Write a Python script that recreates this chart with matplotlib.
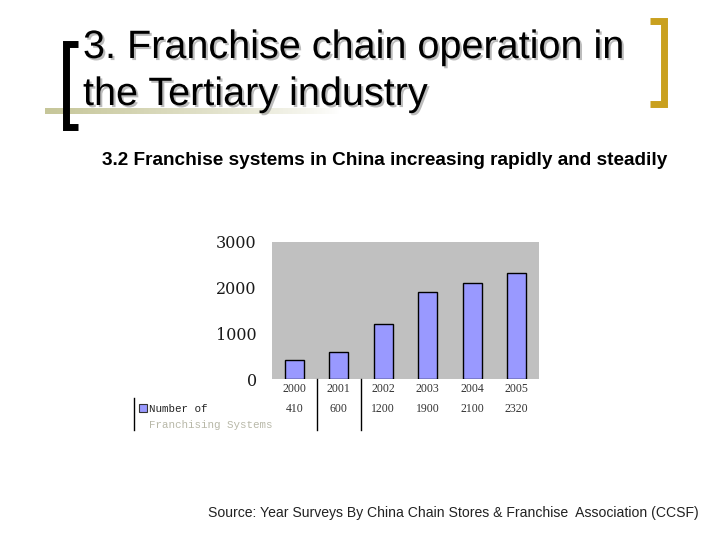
import numpy as np
import matplotlib.pyplot as plt
import matplotlib.patheffects as pe
from matplotlib.transforms import blended_transform_factory

years = ['2000', '2001', '2002', '2003', '2004', '2005']
systems = [410, 600, 1200, 1900, 2100, 2320]
yticks = [0, 1000, 2000, 3000]
series_name = ['Number of', 'Franchising Systems']

title_lines = ['3. Franchise chain operation in', 'the Tertiary industry']
subtitle = '3.2 Franchise systems in China increasing rapidly and steadily'
source = 'Source: Year Surveys By China Chain Stores & Franchise  Association (CCSF)'

W, H = 720, 540
fig = plt.figure(figsize=(7.2, 5.4), dpi=100)

# overlay axes in pixel coords for slide decoration
deco = fig.add_axes([0, 0, 1, 1])
deco.set_xlim(0, W)
deco.set_ylim(H, 0)
deco.axis('off')

# olive line fading out under the title
grad = np.zeros((1, 256, 4))
grad[..., 0] = 0.78
grad[..., 1] = 0.78
grad[..., 2] = 0.60
grad[..., 3] = np.linspace(1, 0, 256) ** 0.8
deco.imshow(grad, extent=[45, 340, 114, 108], aspect='auto', zorder=1)

# brackets
deco.plot([78, 66, 66, 78], [44, 44, 127, 127], color='black', lw=5,
          solid_joinstyle='miter', solid_capstyle='butt', zorder=3)
deco.plot([650, 664, 664, 650], [21, 21, 104, 104], color='#C9A01E', lw=5,
          solid_joinstyle='miter', solid_capstyle='butt', zorder=3)

shadow = [pe.withSimplePatchShadow(offset=(1.5, -1.5), shadow_rgbFace='#909090', alpha=0.6)]
for line, yb in zip(title_lines, [58, 105]):
    deco.text(83, yb, line, fontsize=28.5, family='Liberation Sans', color='black',
              va='baseline', ha='left', zorder=4, path_effects=shadow)
deco.text(102, 165, subtitle, fontsize=13.7, family='Liberation Sans', weight='bold',
          va='baseline', ha='left')
deco.text(208, 517, source, fontsize=10.1, family='Liberation Sans', color='#222222',
          va='baseline', ha='left')

# chart
ax = fig.add_axes([272 / W, 1 - 379 / H, 267 / W, 137 / H])
x = np.arange(len(years))
ax.bar(x, systems, width=0.43, color='#9999FF', edgecolor='black', linewidth=1, zorder=2)
ax.set_facecolor('#C0C0C0')
ax.set_xlim(-0.5, len(years) - 0.5)
ax.set_ylim(0, 3000)
ax.set_yticks(yticks)
ax.set_yticklabels([str(v) for v in yticks], family='DejaVu Serif', fontsize=11.5,
                   color='#1a1a1a')
ax.tick_params(axis='y', length=0, pad=11)
ax.set_xticks([])
for s in ax.spines.values():
    s.set_visible(False)

# data table under the chart
tr = blended_transform_factory(ax.transData, ax.transAxes)
ph = 137.0
for i, (yr, v) in enumerate(zip(years, systems)):
    ax.text(i, -10 / ph, yr, transform=tr, ha='center', va='center',
            family='Liberation Serif', fontsize=8.5, color='#333333', clip_on=False)
    ax.text(i, -30 / ph, str(v), transform=tr, ha='center', va='center',
            family='Liberation Serif', fontsize=8.5, color='#333333', clip_on=False)
for xs in [0.5, 1.5]:
    ax.plot([xs, xs], [0, -51 / ph], transform=tr, color='black', lw=1, clip_on=False)

# legend key at the left of the table
deco.plot([134, 134], [398, 430], color='black', lw=1)
deco.add_patch(plt.Rectangle((139, 404), 8, 8, facecolor='#9999FF', edgecolor='#333333', lw=0.8))
deco.text(149, 409, series_name[0], family='Liberation Mono', fontsize=7.8,
          color='#222222', va='center', ha='left')
deco.text(149, 425, series_name[1], family='Liberation Mono', fontsize=7.8,
          color='#B8B8A8', va='center', ha='left')

fig.savefig('out.png', dpi=100)
